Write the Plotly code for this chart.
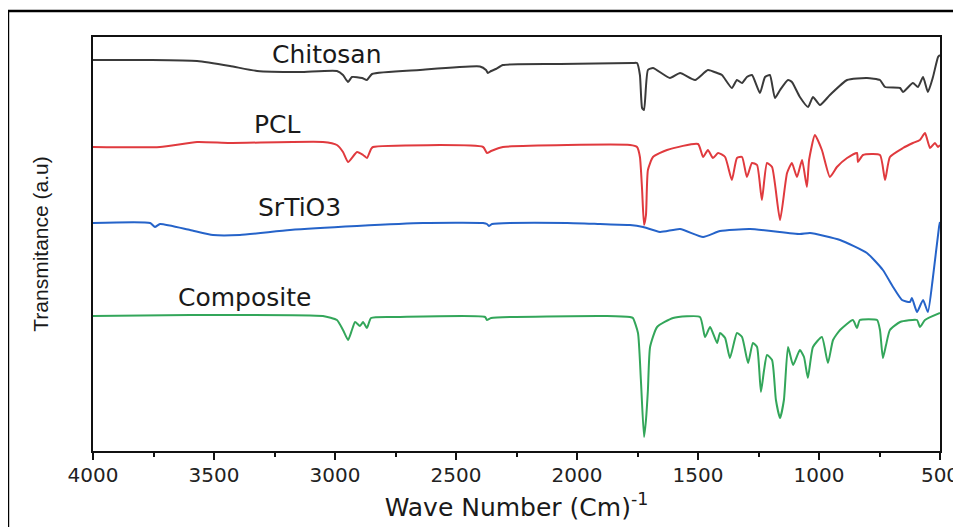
import plotly.graph_objects as go

# ---- data (wavenumber in cm^-1, transmittance in arbitrary units, stacked) ----
chitosan_wn = [4000, 3764, 3570, 3434, 3322, 3145, 2992, 2967, 2946, 2930, 2888, 2868, 2847, 2649,
               2401, 2376, 2368, 2355, 2335, 2306, 2070, 1769, 1752, 1740, 1731, 1723, 1707, 1686,
               1616, 1574, 1512, 1459, 1421, 1401, 1360, 1339, 1318, 1298, 1277, 1244, 1223, 1203,
               1182, 1161, 1128, 1112, 1079, 1045, 1025, 996, 955, 884, 802, 748, 727, 665, 653,
               612, 591, 570, 550, 529, 508, 500]
chitosan_t = [391, 391, 390, 385, 380, 379, 380, 376, 369, 374, 373, 371, 377, 381,
              384.5, 381, 378, 380, 382, 386, 387, 388, 388, 376, 343, 341, 381, 383,
              373, 378, 371, 381, 378, 376, 363, 371, 368, 374, 376, 358, 374, 376,
              353, 361, 371, 369, 354, 344, 354, 346, 356, 371, 373, 371, 364, 363, 359,
              368, 364, 374, 359, 374, 394, 396]

pcl_wn = [4000, 3723, 3570, 3434, 3050, 2992, 2967, 2946, 2909, 2884, 2868, 2851, 2843, 2388,
          2372, 2355, 2306, 1781, 1752, 1740, 1731, 1723, 1715, 1707, 1686, 1628, 1500, 1479,
          1459, 1438, 1417, 1388, 1360, 1339, 1318, 1298, 1277, 1256, 1236, 1215, 1194, 1161,
          1132, 1112, 1091, 1070, 1050, 1041, 1017, 988, 955, 926, 884, 843, 839, 818, 748,
          727, 707, 653, 612, 583, 562, 541, 521, 508, 500]
pcl_t = [304, 304, 309, 308, 309, 306, 299, 289, 299, 296, 293, 302, 304, 304,
         298, 300, 304, 306, 304, 294, 261, 226, 236, 281, 294, 301, 307, 294,
         301, 293, 298, 294, 271, 293, 294, 274, 288, 286, 251, 288, 284, 231,
         278, 288, 274, 291, 264, 291, 316, 301, 274, 284, 293, 298, 289, 296, 296,
         271, 294, 303, 308, 311, 318, 303, 308, 304, 306]

srtio3_wn = [4000, 3764, 3744, 3723, 3599, 3504, 3393, 3186, 2909, 2636, 2388, 2372, 2364, 2351,
             2041, 1905, 1781, 1727, 1657, 1574, 1479, 1409, 1285, 1079, 1037, 913, 802, 736,
             694, 657, 624, 616, 595, 570, 550, 529, 504, 500]
srtio3_t = [228, 228, 224, 227, 221, 216, 216, 221, 225, 228, 228, 227, 225, 227,
            228, 227, 226, 224, 219, 222, 214, 220, 222, 217, 218, 211, 198, 181,
            164, 151, 149, 153, 139, 151, 139, 174, 224, 229]

composite_wn = [4000, 3599, 3050, 2992, 2967, 2946, 2930, 2917, 2897, 2884, 2868, 2851, 2731, 2380,
                2372, 2355, 1876, 1781, 1769, 1748, 1736, 1723, 1715, 1707, 1698, 1669, 1603, 1492,
                1471, 1450, 1421, 1409, 1388, 1368, 1339, 1318, 1293, 1273, 1256, 1240, 1227, 1215,
                1194, 1178, 1161, 1145, 1128, 1107, 1079, 1062, 1046, 1025, 988, 963, 942, 913,
                860, 843, 831, 760, 748, 736, 723, 707, 665, 595, 583, 562, 500]
composite_t = [135, 136, 135, 131, 121, 111, 121, 129, 125, 129, 123, 133, 134, 134,
               131, 133, 135, 134, 133, 118, 71, 14, 31, 61, 104, 124, 133, 134,
               114, 124, 108, 118, 113, 93, 118, 114, 88, 108, 104, 59, 81, 96,
               91, 51, 33, 51, 104, 86, 101, 94, 73, 104, 114, 88, 111, 121,
               131, 123, 131, 131, 121, 93, 106, 121, 129, 131, 124, 131, 138]

series_names = ["Chitosan", "PCL", "SrTiO3", "Composite"]
series_colors = ["#3a3a3a", "#e03a3e", "#2563c9", "#33a65a"]
label_wn = [3033, 3236, 3145, 3372]
label_t = [397, 327, 244, 154]

x_ticks = [4000, 3500, 3000, 2500, 2000, 1500, 1000, 500]

fig = go.Figure()
data = [(chitosan_wn, chitosan_t), (pcl_wn, pcl_t), (srtio3_wn, srtio3_t), (composite_wn, composite_t)]
for (wn, t), name, col in zip(data, series_names, series_colors):
    fig.add_trace(go.Scatter(x=wn, y=t, mode="lines", name=name,
                             line=dict(color=col, width=2, shape="spline", smoothing=0.5),
                             showlegend=False))

for name, xw, yt in zip(series_names, label_wn, label_t):
    fig.add_annotation(x=xw, y=yt, text=name, showarrow=False, xanchor="center", yanchor="middle",
                       font=dict(family="DejaVu Sans", size=25, color="#1a1a1a"))

fig.update_xaxes(range=[4000, 500], tickvals=x_ticks, ticktext=[str(v) for v in x_ticks],
                 ticks="outside", ticklen=7, tickwidth=2, tickcolor="#111",
                 ticklabelstandoff=-2,
                 minor=dict(dtick=250, ticks="outside", ticklen=4, tickwidth=2, tickcolor="#111"),
                 showline=True, linewidth=2, linecolor="#111", mirror=True, showgrid=False,
                 zeroline=False, automargin=False,
                 tickfont=dict(family="DejaVu Sans", size=20, color="#222"),
                 title=dict(text="Wave Number (Cm)<sup>-1</sup>", standoff=12,
                            font=dict(family="DejaVu Sans", size=25, color="#1a1a1a")))
fig.update_yaxes(range=[0, 414], showticklabels=False, ticks="", showline=True, linewidth=2,
                 linecolor="#111", mirror=True, showgrid=False, zeroline=False, automargin=False,
                 title=dict(text="Transmitance (a.u)", standoff=37,
                            font=dict(family="Liberation Sans", size=21, color="#1a1a1a")))

# outer frame of the figure
fig.add_shape(type="rect", xref="paper", yref="paper", x0=-0.1004, x1=1.05, y0=-0.25, y1=1.0628,
              line=dict(color="#000", width=2.5), fillcolor="rgba(0,0,0,0)", layer="above")

fig.update_layout(width=961, height=527, margin=dict(l=85, r=29, t=29, b=84),
                  plot_bgcolor="white", paper_bgcolor="white")

fig.write_html("out.html")
